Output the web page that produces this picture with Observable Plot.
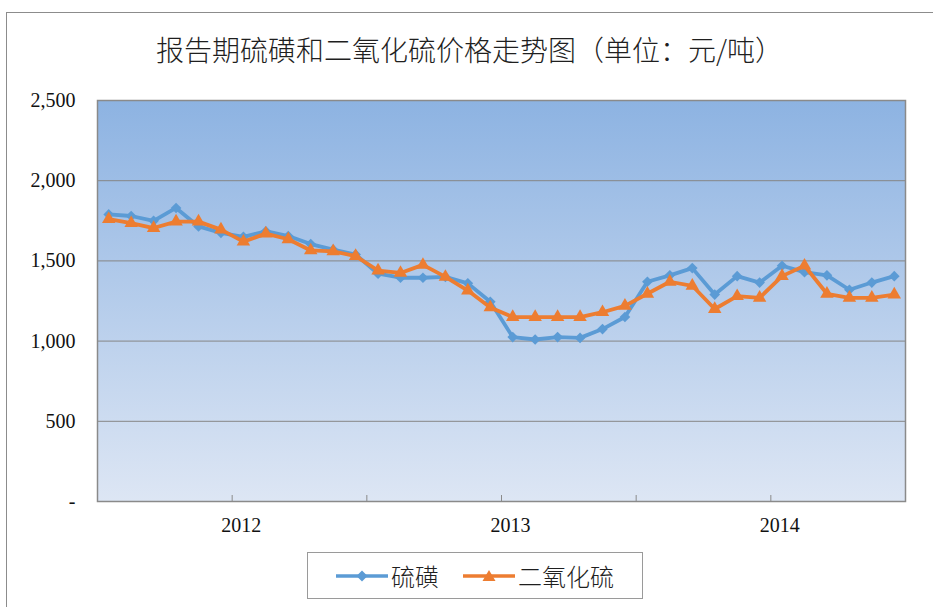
<!DOCTYPE html>
<html>
<head>
<meta charset="utf-8">
<script src="https://cdn.jsdelivr.net/npm/d3@7"></script>
<script src="https://cdn.jsdelivr.net/npm/@observablehq/plot@0.6"></script>
<style>
  html, body { margin: 0; padding: 0; background: #fff; }
  #wrap { position: relative; width: 933px; height: 607px; overflow: hidden; }
  #frame { position: absolute; left: 6px; top: 12px; width: 940px; height: 620px; border: 1px solid #8c8c8c; box-sizing: border-box; }
  #title { position: absolute; left: 6px; width: 927px; top: 29px; text-align: center;
    font-family: "Noto Sans CJK SC", sans-serif; font-size: 28px; font-weight: 300; color: #1f1f1f; }
  #chart { position: absolute; left: 0; top: 0; }
  #legend { position: absolute; left: 307px; top: 552px; width: 336px; height: 47px; box-sizing: border-box;
    border: 1px solid #9a9a9a; background: #fff; display: flex; align-items: center; justify-content: center;
    font-family: "Noto Sans CJK SC", sans-serif; font-size: 24px; font-weight: 300; color: #1f1f1f; }
  #legend .item { display: flex; align-items: center; }
  #legend .item + .item { margin-left: 24px; }
  #legend svg { margin-right: 3px; }
</style>
</head>
<body>
<div id="wrap">
  <div id="frame"></div>
  <div id="title">报告期硫磺和二氧化硫价格走势图（单位：元/吨）</div>
  <div id="chart"></div>
  <div id="legend"></div>
</div>
<script>
// ---- data ----
const years = ["2012", "2013", "2014"];
const seriesNames = ["硫磺", "二氧化硫"];
const seriesColors = ["#5B9BD5", "#ED7D31"];
const sulfur = [1790, 1780, 1750, 1830, 1715, 1675, 1650, 1685, 1655, 1605, 1570, 1540,
                1420, 1395, 1395, 1400, 1360, 1245, 1025, 1010, 1025, 1020, 1075, 1150,
                1370, 1410, 1455, 1290, 1405, 1365, 1470, 1430, 1410, 1320, 1365, 1405];
const so2 =    [1760, 1735, 1705, 1745, 1745, 1695, 1620, 1670, 1635, 1565, 1560, 1530,
                1440, 1425, 1475, 1400, 1315, 1210, 1150, 1150, 1150, 1150, 1180, 1220,
                1295, 1370, 1345, 1200, 1280, 1270, 1405, 1470, 1295, 1270, 1270, 1290];
const yTicks = [0, 500, 1000, 1500, 2000, 2500];

const nMonths = sulfur.length;
const rows = [];
sulfur.forEach((v, i) => rows.push({series: seriesNames[0], m: i + 0.5, v}));
so2.forEach((v, i) => rows.push({series: seriesNames[1], m: i + 0.5, v}));
const rowsS = rows.filter(d => d.series === seriesNames[0]);
const rowsO = rows.filter(d => d.series === seriesNames[1]);
const yearCenters = years.map((y, i) => i * 12 + 6);
const halfYearTicks = d3.range(6, nMonths, 6);

const serif = "'Liberation Serif', 'Times New Roman', serif";

const plot = Plot.plot({
  width: 933,
  height: 607,
  marginTop: 100,
  marginBottom: 106,
  marginLeft: 97,
  marginRight: 28,
  style: {background: "transparent", overflow: "visible"},
  x: {type: "linear", domain: [0, nMonths], label: null},
  y: {domain: [0, 2500], label: null},
  marks: [
    Plot.frame({fill: "url(#bgGrad)", stroke: null}),
    Plot.ruleY(yTicks.filter(d => d > 0 && d < 2500), {stroke: "#868686", strokeWidth: 1}),
    Plot.frame({stroke: "#8a8a8a", strokeWidth: 1.5}),
    Plot.axisY({ticks: yTicks, tickSize: 0, tickPadding: 22, label: null,
      tickFormat: d => d === 0 ? "-" : d3.format(",")(d),
      fontFamily: serif, fontSize: 20, fill: "#111"}),
    Plot.axisX({ticks: yearCenters, tickSize: 0, tickPadding: 16, label: null, dx: 9,
      tickFormat: d => years[(d - 6) / 12], fontFamily: serif, fontSize: 20, fill: "#111"}),
    Plot.axisX({ticks: halfYearTicks, tickSize: -6, tickFormat: () => "", label: null, stroke: "#8a8a8a"}),
    Plot.line(rowsS, {x: "m", y: "v", stroke: seriesColors[0], strokeWidth: 3.8}),
    Plot.dot(rowsS, {x: "m", y: "v", symbol: "diamond2", r: 4.8, fill: seriesColors[0], stroke: "none"}),
    Plot.line(rowsO, {x: "m", y: "v", stroke: seriesColors[1], strokeWidth: 3.8}),
    Plot.dot(rowsO, {x: "m", y: "v", symbol: "triangle", r: 5, fill: seriesColors[1], stroke: "none"})
  ]
});

// gradient background for the plot area
const ns = "http://www.w3.org/2000/svg";
const defs = document.createElementNS(ns, "defs");
defs.innerHTML = `<linearGradient id="bgGrad" x1="0" y1="0" x2="0" y2="1">
  <stop offset="0" stop-color="#8DB3E2"/>
  <stop offset="1" stop-color="#DDE6F4"/>
</linearGradient>`;
plot.insertBefore(defs, plot.firstChild);
document.getElementById("chart").appendChild(plot);

// legend
const legend = document.getElementById("legend");
const syms = ["diamond", "triangle"];
seriesNames.forEach((name, i) => {
  const item = document.createElement("div");
  item.className = "item";
  const c = seriesColors[i];
  const marker = syms[i] === "diamond"
    ? `<path d="M26,2.5L31.5,8L26,13.5L20.5,8Z" fill="${c}"/>`
    : `<path d="M26,2L32.5,13L19.5,13Z" fill="${c}"/>`;
  item.innerHTML = `<svg width="52" height="16"><line x1="0" y1="8" x2="52" y2="8" stroke="${c}" stroke-width="3.5"/>${marker}</svg><span>${name}</span>`;
  legend.appendChild(item);
});
</script>
</body>
</html>
